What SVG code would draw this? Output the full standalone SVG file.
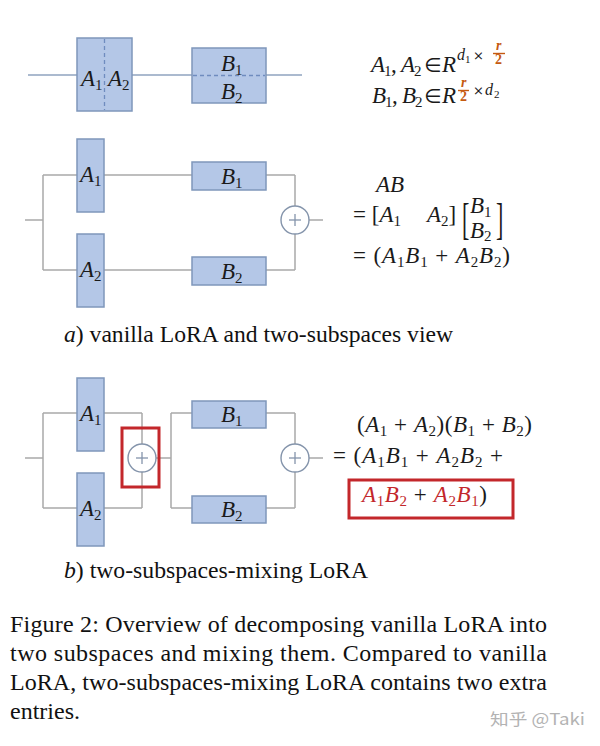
<svg xmlns="http://www.w3.org/2000/svg" width="600" height="746" viewBox="0 0 600 746">
<style>
.bg{fill:#ffffff}
.ln{stroke:#a8a8a8;stroke-width:1.5;fill:none}
.ln0{stroke:#8fa3bf;stroke-width:1.5;fill:none}
.box{fill:#b4c7e7;stroke:#7f97bb;stroke-width:1.5}
.dash{stroke:#6f8cbf;stroke-width:1.3;stroke-dasharray:4 3;fill:none}
.circ{fill:#ffffff;stroke:#8494ab;stroke-width:1.4}
.plus{stroke:#8494ab;stroke-width:1.3}
.red{fill:none;stroke:#c3272b;stroke-width:3}
.m{font-family:"Liberation Serif",serif;font-style:italic;font-size:23px;fill:#1a1a1a}
.u{font-style:normal}
.s{font-style:normal;font-size:15px}
.sym{font-family:"DejaVu Sans",sans-serif;font-style:normal;font-size:20px;fill:#1a1a1a}
.sup{font-family:"Liberation Serif",serif;font-style:italic;font-size:16px;fill:#1a1a1a}
.ss{font-family:"Liberation Serif",serif;font-size:11px;fill:#1a1a1a}
.tim{font-family:"DejaVu Serif",serif;font-size:13px;fill:#1a1a1a}
.fr{font-family:"Liberation Serif",serif;font-size:14px;font-weight:bold;fill:#c55a11}
.fri{font-style:italic}
.frl{stroke:#c55a11;stroke-width:1.4}
.rt{fill:#c3272b}
.cap{font-family:"Liberation Serif",serif;font-size:24px;fill:#111111}
.wm{font-family:"Noto Sans CJK SC","Noto Sans",sans-serif;font-size:16px;fill:#b3b3b3}
</style>
<rect class="bg" x="0" y="0" width="600" height="746"/>

<g id="connectors">
  <line class="ln0" x1="28" y1="75" x2="302" y2="75"/>
  <line class="ln" x1="25" y1="220" x2="43" y2="220"/>
  <line class="ln" x1="43" y1="175" x2="43" y2="270"/>
  <line class="ln" x1="43" y1="175" x2="295" y2="175"/>
  <line class="ln" x1="43" y1="270" x2="295" y2="270"/>
  <line class="ln" x1="295" y1="175" x2="295" y2="270"/>
  <line class="ln" x1="309" y1="220" x2="323" y2="220"/>
  <line class="ln" x1="25" y1="458" x2="43" y2="458"/>
  <line class="ln" x1="43" y1="413" x2="43" y2="508"/>
  <line class="ln" x1="43" y1="413" x2="142" y2="413"/>
  <line class="ln" x1="43" y1="508" x2="142" y2="508"/>
  <line class="ln" x1="142" y1="413" x2="142" y2="508"/>
  <line class="ln" x1="156" y1="458" x2="171" y2="458"/>
  <line class="ln" x1="171" y1="413" x2="171" y2="508"/>
  <line class="ln" x1="171" y1="413" x2="295" y2="413"/>
  <line class="ln" x1="171" y1="508" x2="295" y2="508"/>
  <line class="ln" x1="295" y1="413" x2="295" y2="508"/>
  <line class="ln" x1="309" y1="458" x2="323" y2="458"/>
</g>

<g id="top-A">
  <rect class="box" x="77" y="38" width="55" height="73"/>
  <line class="dash" x1="104.5" y1="39" x2="104.5" y2="110"/>
  <text class="m" x="81" y="86">A<tspan class="s" dy="4">1</tspan></text>
  <text class="m" x="108" y="86">A<tspan class="s" dy="4">2</tspan></text>
</g>
<g id="top-B">
  <rect class="box" x="192" y="48" width="74" height="55"/>
  <line class="dash" x1="193" y1="75.5" x2="265" y2="75.5"/>
  <text class="m" x="221" y="71">B<tspan class="s" dy="4">1</tspan></text>
  <text class="m" x="221" y="99">B<tspan class="s" dy="4">2</tspan></text>
</g>

<g id="a-A1"><rect class="box" x="77" y="139" width="27" height="73"/><text class="m" x="80" y="182">A<tspan class="s" dy="4">1</tspan></text></g>
<g id="a-A2"><rect class="box" x="77" y="234" width="27" height="73"/><text class="m" x="80" y="277">A<tspan class="s" dy="4">2</tspan></text></g>
<g id="a-B1"><rect class="box" x="192" y="162" width="74" height="28"/><text class="m" x="221" y="184">B<tspan class="s" dy="4">1</tspan></text></g>
<g id="a-B2"><rect class="box" x="192" y="257" width="74" height="28"/><text class="m" x="221" y="279">B<tspan class="s" dy="4">2</tspan></text></g>
<g id="a-plus"><circle class="circ" cx="295" cy="220" r="14"/><line class="plus" x1="289" y1="220" x2="301" y2="220"/><line class="plus" x1="295" y1="214" x2="295" y2="226"/></g>

<g id="b-A1"><rect class="box" x="77" y="378" width="27" height="73"/><text class="m" x="80" y="421">A<tspan class="s" dy="4">1</tspan></text></g>
<g id="b-A2"><rect class="box" x="77" y="473" width="27" height="73"/><text class="m" x="80" y="516">A<tspan class="s" dy="4">2</tspan></text></g>
<g id="b-B1"><rect class="box" x="192" y="401" width="74" height="27"/><text class="m" x="221" y="422">B<tspan class="s" dy="4">1</tspan></text></g>
<g id="b-B2"><rect class="box" x="192" y="496" width="74" height="27"/><text class="m" x="221" y="517">B<tspan class="s" dy="4">2</tspan></text></g>
<g id="b-plus1"><circle class="circ" cx="142" cy="458" r="14"/><line class="plus" x1="136" y1="458" x2="148" y2="458"/><line class="plus" x1="142" y1="452" x2="142" y2="464"/></g>
<g id="b-mixbox"><rect class="red" x="122" y="428" width="37" height="59"/></g>
<g id="b-plus2"><circle class="circ" cx="295" cy="458" r="14"/><line class="plus" x1="289" y1="458" x2="301" y2="458"/><line class="plus" x1="295" y1="452" x2="295" y2="464"/></g>

<g id="eq-dims">
  <text class="m" x="371" y="72">A</text>
  <text class="s m" x="384" y="76">1</text>
  <text class="m u" x="391" y="72">,</text>
  <text class="m" x="401" y="72">A</text>
  <text class="s m" x="414" y="76">2</text>
  <text class="sym" x="424" y="72">∈</text>
  <text class="m" x="442" y="72">R</text>
  <text class="sup" x="457" y="60">d</text>
  <text class="ss" x="465" y="63">1</text>
  <text class="tim" x="473" y="60">×</text>
  <text class="fr fri" x="496" y="50">r</text>
  <line class="frl" x1="493" y1="53.5" x2="505" y2="53.5"/>
  <text class="fr" x="495" y="64">2</text>

  <text class="m" x="372" y="103">B</text>
  <text class="s m" x="385" y="107">1</text>
  <text class="m u" x="392" y="103">,</text>
  <text class="m" x="402" y="103">B</text>
  <text class="s m" x="415" y="107">2</text>
  <text class="sym" x="424" y="103">∈</text>
  <text class="m" x="442" y="103">R</text>
  <text class="fr fri" x="461" y="87">r</text>
  <line class="frl" x1="458" y1="90.5" x2="469" y2="90.5"/>
  <text class="fr" x="460" y="101">2</text>
  <text class="tim" x="473" y="95">×</text>
  <text class="sup" x="485" y="95">d</text>
  <text class="ss" x="494" y="98">2</text>
</g>

<g id="eq-a">
  <text class="m" x="376" y="192">AB</text>
  <text class="m" x="353" y="222"><tspan class="u">= [</tspan>A<tspan class="s" dy="4">1</tspan></text>
  <text class="m" x="427" y="222">A<tspan class="s" dy="4">2</tspan><tspan class="u" dy="-4">]</tspan></text>
  <text class="m u" transform="translate(462,234) scale(1,2)" x="0" y="0" style="font-size:22px">[</text>
  <text class="m u" transform="translate(496,234) scale(1,2)" x="0" y="0" style="font-size:22px">]</text>
  <text class="m" x="470" y="213">B<tspan class="s" dy="4">1</tspan></text>
  <text class="m" x="470" y="238">B<tspan class="s" dy="3">2</tspan></text>
  <text class="m" x="353" y="263" textLength="157" lengthAdjust="spacing"><tspan class="u">= (</tspan>A<tspan class="s" dy="4">1</tspan><tspan dy="-4">B</tspan><tspan class="s" dy="4">1</tspan><tspan class="u" dy="-4"> + </tspan>A<tspan class="s" dy="4">2</tspan><tspan dy="-4">B</tspan><tspan class="s" dy="4">2</tspan><tspan class="u" dy="-4">)</tspan></text>
</g>

<g id="eq-b">
  <text class="m" x="357" y="432" textLength="175" lengthAdjust="spacing"><tspan class="u">(</tspan>A<tspan class="s" dy="4">1</tspan><tspan class="u" dy="-4"> + </tspan>A<tspan class="s" dy="4">2</tspan><tspan class="u" dy="-4">)(</tspan>B<tspan class="s" dy="4">1</tspan><tspan class="u" dy="-4"> + </tspan>B<tspan class="s" dy="4">2</tspan><tspan class="u" dy="-4">)</tspan></text>
  <text class="m" x="333" y="463" textLength="170" lengthAdjust="spacing"><tspan class="u">= (</tspan>A<tspan class="s" dy="4">1</tspan><tspan dy="-4">B</tspan><tspan class="s" dy="4">1</tspan><tspan class="u" dy="-4"> + </tspan>A<tspan class="s" dy="4">2</tspan><tspan dy="-4">B</tspan><tspan class="s" dy="4">2</tspan><tspan class="u" dy="-4"> +</tspan></text>
  <rect class="red" x="349" y="480" width="164" height="38"/>
  <text class="m" x="362" y="502" textLength="125" lengthAdjust="spacing"><tspan class="rt">A</tspan><tspan class="s rt" dy="4">1</tspan><tspan class="rt" dy="-4">B</tspan><tspan class="s rt" dy="4">2</tspan><tspan class="u" dy="-4"> + </tspan><tspan class="rt">A</tspan><tspan class="s rt" dy="4">2</tspan><tspan class="rt" dy="-4">B</tspan><tspan class="s rt" dy="4">1</tspan><tspan class="u" dy="-4">)</tspan></text>
</g>

<g id="captions">
  <text class="cap" x="64" y="342" textLength="389" lengthAdjust="spacingAndGlyphs"><tspan font-style="italic">a</tspan>) vanilla LoRA and two-subspaces view</text>
  <text class="cap" x="64" y="578" textLength="304" lengthAdjust="spacingAndGlyphs"><tspan font-style="italic">b</tspan>) two-subspaces-mixing LoRA</text>
  <text class="cap" x="10" y="632" textLength="537" lengthAdjust="spacing">Figure 2: Overview of decomposing vanilla LoRA into</text>
  <text class="cap" x="10" y="661" textLength="537" lengthAdjust="spacing">two subspaces and mixing them. Compared to vanilla</text>
  <text class="cap" x="10" y="690" textLength="537" lengthAdjust="spacing">LoRA, two-subspaces-mixing LoRA contains two extra</text>
  <text class="cap" x="10" y="719">entries.</text>
  <text class="wm" x="490" y="725" textLength="95" lengthAdjust="spacingAndGlyphs">知乎 @Taki</text>
</g>
</svg>
